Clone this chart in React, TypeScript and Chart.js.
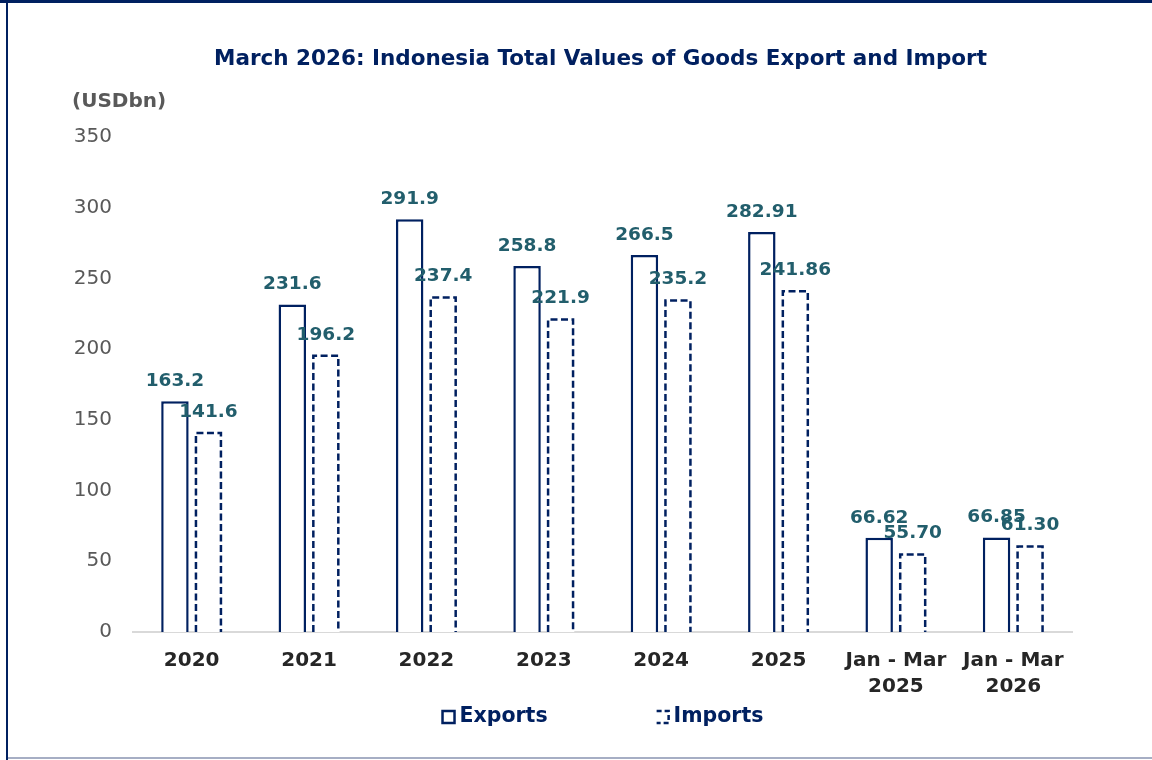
import React, { useEffect, useRef } from "react";
import { Chart, registerables } from "chart.js";

Chart.register(...registerables);

const categories: (string | string[])[] = [
  "2020",
  "2021",
  "2022",
  "2023",
  "2024",
  "2025",
  ["Jan - Mar", "2025"],
  ["Jan - Mar", "2026"],
];

const exportsValues = [163.2, 231.6, 291.9, 258.8, 266.5, 282.91, 66.62, 66.85];
const importsValues = [141.6, 196.2, 237.4, 221.9, 235.2, 241.86, 55.7, 61.3];

const exportsLabels = ["163.2", "231.6", "291.9", "258.8", "266.5", "282.91", "66.62", "66.85"];
const importsLabels = ["141.6", "196.2", "237.4", "221.9", "235.2", "241.86", "55.70", "61.30"];

const seriesNames = ["Exports", "Imports"];
const titleText = "March 2026: Indonesia Total Values of Goods Export and Import";
const unitText = "(USDbn)";
const yMax = 350;
const yStep = 50;

const NAVY = "#002060";
const TEAL = "#225E6C";
const GRAY = "#595959";
const FONT = '"DejaVu Sans", Verdana, sans-serif';

const overlayPlugin = {
  id: "overlay",
  afterDatasetsDraw(chart: any) {
    const ctx = chart.ctx as CanvasRenderingContext2D;
    // dashed borders for imports
    const meta = chart.getDatasetMeta(1);
    ctx.save();
    ctx.strokeStyle = NAVY;
    ctx.lineWidth = 2.5;
    ctx.setLineDash([7, 3.5]);
    meta.data.forEach((el: any) => {
      const { x, y, base, width } = el.getProps(["x", "y", "base", "width"], true);
      const lw = 1.25;
      const l = x - width / 2 + lw;
      const r = x + width / 2 - lw;
      const t = y + lw;
      ctx.beginPath();
      ctx.moveTo(l, base);
      ctx.lineTo(l, t);
      ctx.lineTo(r, t);
      ctx.lineTo(r, base);
      ctx.stroke();
    });
    ctx.restore();

    // data labels
    const labelSets = [exportsLabels, importsLabels];
    ctx.save();
    ctx.font = `bold 18.5px ${FONT}`;
    ctx.fillStyle = TEAL;
    ctx.textAlign = "center";
    ctx.textBaseline = "alphabetic";
    [0, 1].forEach((di) => {
      const m = chart.getDatasetMeta(di);
      m.data.forEach((el: any, i: number) => {
        const { x, y } = el.getProps(["x", "y"], true);
        ctx.fillText(labelSets[di][i], x, y - 15);
      });
    });
    ctx.restore();
  },
  afterDraw(chart: any) {
    const ctx = chart.ctx as CanvasRenderingContext2D;
    const ca = chart.chartArea;
    const cx = (ca.left + ca.right) / 2;
    ctx.save();
    // title
    ctx.font = `bold 21.5px ${FONT}`;
    ctx.fillStyle = NAVY;
    ctx.textAlign = "center";
    ctx.textBaseline = "middle";
    ctx.fillText(titleText, cx - 2, 59);
    // unit
    ctx.font = `bold 20px ${FONT}`;
    ctx.fillStyle = GRAY;
    ctx.textAlign = "left";
    ctx.fillText(unitText, 72, 102);
    // legend
    ctx.font = `bold 20.5px ${FONT}`;
    const w1 = ctx.measureText(seriesNames[0]).width;
    const w2 = ctx.measureText(seriesNames[1]).width;
    const box = 14;
    const gap = 4;
    const itemGap = 108;
    const total = box + gap + w1 + itemGap + box + gap + w2;
    let x = cx - total / 2;
    const cy = 717;
    ctx.strokeStyle = NAVY;
    ctx.lineWidth = 2.5;
    ctx.setLineDash([]);
    ctx.strokeRect(x + 1, cy - 6, box - 2, box - 2);
    ctx.fillStyle = NAVY;
    ctx.textBaseline = "middle";
    ctx.fillText(seriesNames[0], x + box + gap, cy);
    x += box + gap + w1 + itemGap;
    ctx.lineWidth = 2.5;
    ctx.setLineDash([5, 3]);
    ctx.beginPath();
    ctx.moveTo(x + 1, cy - 6);
    ctx.lineTo(x + box - 1, cy - 6);
    ctx.lineTo(x + box - 1, cy + 6);
    ctx.lineTo(x + 1, cy + 6);
    ctx.stroke();
    ctx.setLineDash([]);
    ctx.fillText(seriesNames[1], x + box + gap, cy);
    ctx.restore();
  },
};

export default function App() {
  const canvasRef = useRef<HTMLCanvasElement | null>(null);

  useEffect(() => {
    document.body.style.margin = "0";
    const canvas = canvasRef.current;
    if (!canvas) return;
    const chart = new Chart(canvas, {
      type: "bar",
      data: {
        labels: categories,
        datasets: [
          {
            label: seriesNames[0],
            data: exportsValues,
            backgroundColor: "#ffffff",
            borderColor: NAVY,
            borderWidth: 2.5,
            borderSkipped: "start",
            categoryPercentage: 0.571,
            barPercentage: 0.82,
          },
          {
            label: seriesNames[1],
            data: importsValues,
            backgroundColor: "#ffffff",
            borderColor: NAVY,
            borderWidth: 0,
            categoryPercentage: 0.571,
            barPercentage: 0.82,
          },
        ],
      },
      options: {
        responsive: false,
        animation: false,
        devicePixelRatio: 1,
        layout: { padding: { top: 137, right: 80, bottom: 48, left: 0 } },
        plugins: {
          legend: { display: false },
          title: { display: false },
          tooltip: { enabled: false },
        },
        scales: {
          x: {
            z: 1,
            grid: { display: false, drawTicks: false },
            border: { display: true, color: "#d9d9d9", width: 2 },
            ticks: {
              color: "#262626",
              font: { family: FONT, size: 20, weight: "bold", lineHeight: 1.3 },
              padding: 16,
              maxRotation: 0,
              autoSkip: false,
            },
            afterFit: (scale: any) => {
              scale.height = 80;
            },
          },
          y: {
            min: 0,
            max: yMax,
            grid: { display: false, drawTicks: false },
            border: { display: false },
            ticks: {
              stepSize: yStep,
              color: GRAY,
              font: { family: FONT, size: 20 },
              padding: 21,
            },
            afterFit: (scale: any) => {
              scale.width = 133;
            },
          },
        },
      },
      plugins: [overlayPlugin],
    });
    return () => chart.destroy();
  }, []);

  return (
    <div style={{ position: "relative", width: 1152, height: 760, background: "#fff", overflow: "hidden" }}>
      <canvas
        ref={canvasRef}
        width={1152}
        height={760}
        style={{ position: "absolute", left: 0, top: 0, width: 1152, height: 760 }}
      />
      <div style={{ position: "absolute", left: 0, top: 0, width: 1152, height: 3, background: NAVY }} />
      <div style={{ position: "absolute", left: 6, top: 0, width: 2, height: 760, background: NAVY }} />
      <div style={{ position: "absolute", left: 8, top: 757, width: 1144, height: 2, background: "#a6aec4" }} />
    </div>
  );
}
